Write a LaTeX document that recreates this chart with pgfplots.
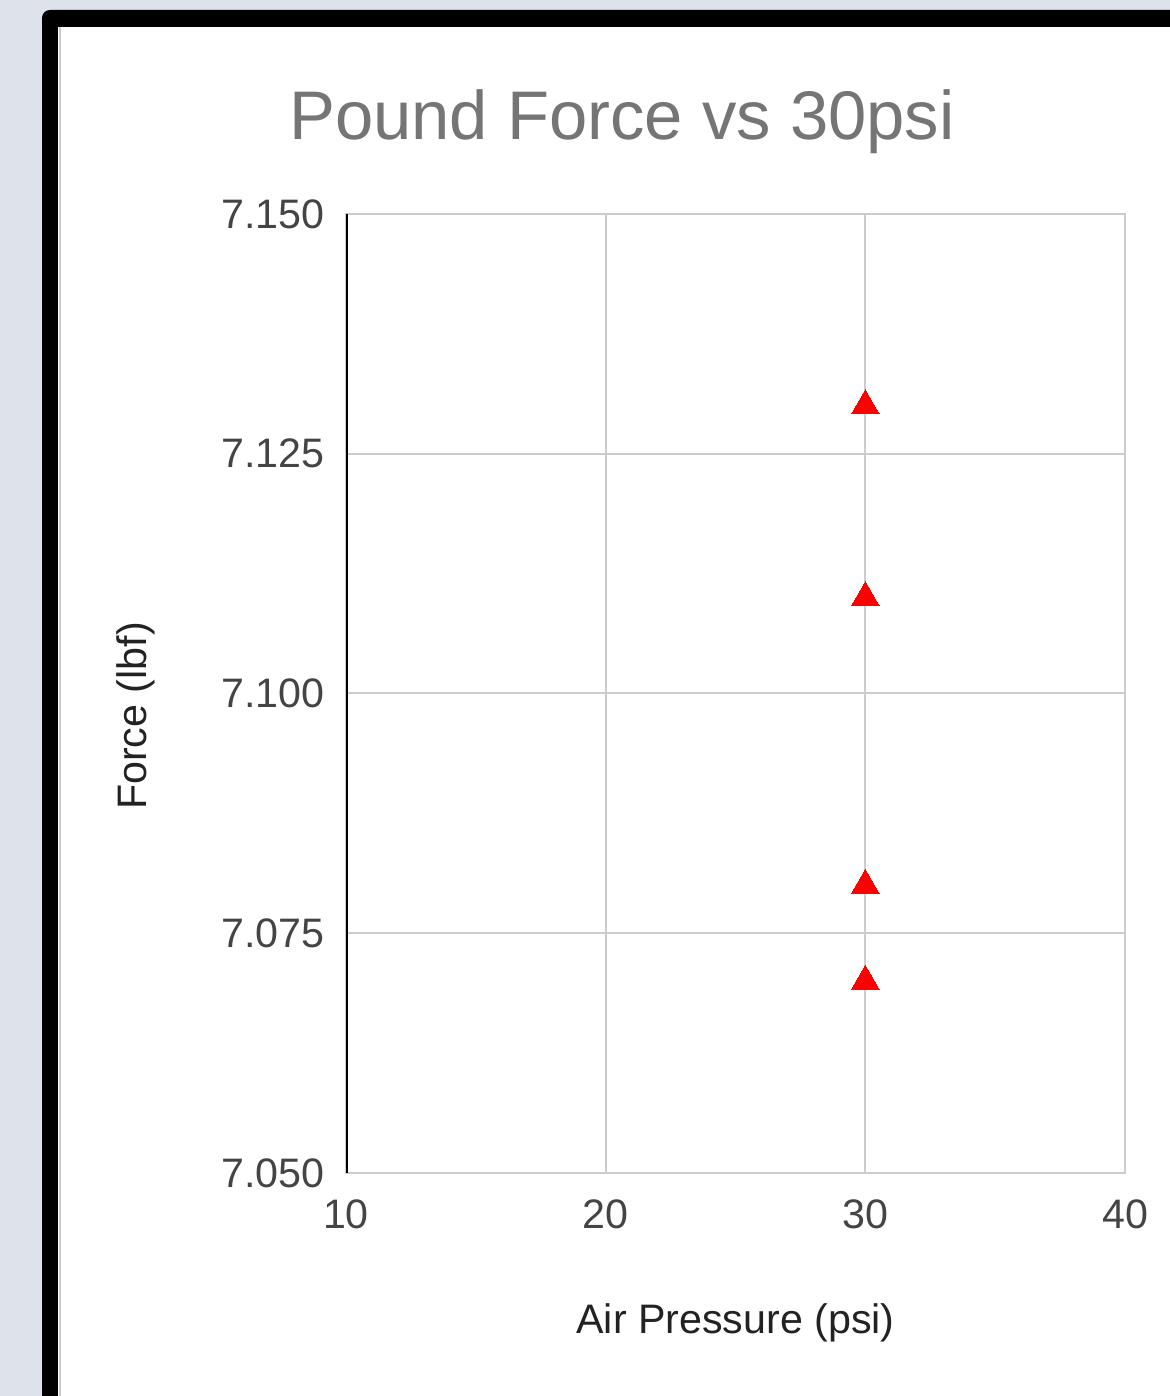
\documentclass[border=0pt]{standalone}
\usepackage{pgfplots}
\pgfplotsset{compat=1.18}
\usepackage{fontspec}
\setmainfont{Liberation Sans}
\definecolor{bgc}{RGB}{222,226,234}
\definecolor{titlec}{RGB}{117,117,117}
\definecolor{tickc}{RGB}{68,68,68}
\definecolor{labc}{RGB}{34,34,34}
\definecolor{gridc}{RGB}{204,204,204}
\begin{document}
\begin{tikzpicture}
\path[use as bounding box] (0pt,0pt) rectangle (585pt,698pt);
\fill[bgc] (0pt,0pt) rectangle (585pt,698pt);
\fill[black] (21pt,0pt) -- (21pt,689pt) arc[start angle=180,end angle=90,radius=4pt] -- (585pt,693pt) -- (585pt,0pt) -- cycle;
\fill[white] (29pt,0pt) rectangle (585pt,684.5pt);
\draw[gridc, line width=1pt] (30pt,0pt) -- (30pt,684.5pt);
\begin{axis}[
  at={(173pt,111.5pt)}, anchor=south west,
  scale only axis, width=389.5pt, height=479.5pt,
  xmin=10, xmax=40, ymin=7.05, ymax=7.15,
  xtick={10,20,30,40}, xticklabels={10,20,30,40},
  ytick={7.05,7.075,7.1,7.125,7.15},
  yticklabels={7.050,7.075,7.100,7.125,7.150},
  major tick length=0pt,
  grid=major,
  grid style={draw=gridc, line width=1pt},
  axis line style={draw=gridc, line width=1pt},
  tick label style={font=\fontsize{20.6pt}{24pt}\selectfont, text=tickc, inner sep=0pt},
  xticklabel style={anchor=north, yshift=-13pt},
  yticklabel style={anchor=east, xshift=-10.5pt},
  title={Pound Force vs 30psi},
  title style={at={(axis description cs:0.3543,1.0834)}, anchor=center, font=\fontsize{34.4pt}{40pt}\selectfont, text=titlec},
  xlabel={Air Pressure (psi)},
  xlabel style={at={(axis description cs:0.5,-0.1564)}, anchor=center, font=\fontsize{20.6pt}{24pt}\selectfont, text=labc},
  ylabel={Force (lbf)},
  ylabel style={at={(axis description cs:-0.2696,0.4765)}, anchor=center, font=\fontsize{20.6pt}{24pt}\selectfont, text=labc},
]
\draw[black, line width=1.5pt] (rel axis cs:0,0) -- (rel axis cs:0,1);
\addplot[only marks, color=red, mark=triangle*, mark size=8pt, mark options={solid, fill=red, draw=red, line width=0pt}]
  coordinates {(30,7.130) (30,7.110) (30,7.080) (30,7.070)};
\end{axis}
\end{tikzpicture}
\end{document}
